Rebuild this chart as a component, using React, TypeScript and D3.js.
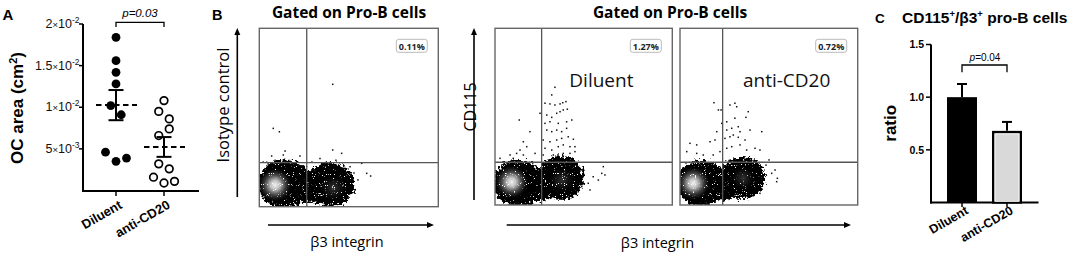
import React from 'react';
import * as d3 from 'd3';

// ---------------- Panel A data ----------------
const groupsA = ['Diluent', 'anti-CD20'];
const ocDiluent = [0.0184, 0.0156, 0.0142, 0.0128, 0.0102, 0.0091, 0.0046, 0.0035, 0.0039];
const ocAnti = [0.0108, 0.0095, 0.0086, 0.0066, 0.0074, 0.0032, 0.0026, 0.0016, 0.0009, 0.0011];
const ocTicks = [0.005, 0.01, 0.015, 0.02];
const ocTickMantissa = ['5', '1', '1.5', '2'];
const ocTickExponent = ['-3', '-2', '-2', '-2'];
const pLabelA = 'p=0.03';

// ---------------- Panel B data ----------------
const flowTitle = 'Gated on Pro-B cells';
const flowPercents = ['0.11%', '1.27%', '0.72%'];
const flowConditions = ['', 'Diluent', 'anti-CD20'];
const flowGates = [[26.5, 24.7], [26.3, 24.2], [24.0, 24.2]];
// dense populations: [cx, cy, rx, ry] in axis units (0-100)
const isoPopulations = [[14.2, 12.9, 15.0, 13.5], [39.6, 12.3, 13.5, 12.3], [27, 11, 8, 9]];
const dilPopulations = [[13.3, 12.5, 14.5, 13.0], [37.2, 15.3, 13.0, 12.5], [25.5, 11, 8, 9]];
const antiPopulations = [[12.0, 12.5, 13.8, 13.0], [34.9, 15.3, 13.0, 11.9], [23.5, 11, 8, 9]];
// bright cores of the populations: [cx, cy, rx, ry]
const isoCores = [[8.8, 12.2, 8, 8], [41.3, 10.5, 6.7, 6.7]];
const dilCores = [[9.4, 13.0, 8, 8], [37.8, 14.2, 6.5, 6.5]];
const antiCores = [[7.5, 12.3, 8, 8], [35.5, 15.3, 6, 6]];
// sparse events [x, y]
const isoEvents = [
  [41.0, 68.6], [7.8, 43.9], [11.2, 42.0], [14.4, 31.2], [41.0, 31.8], [46.0, 29.9], [22.7, 28.4],
  [6.9, 28.4], [13.4, 29.0], [50.7, 22.4], [55.1, 15.0], [57.2, 24.3], [60.0, 18.7], [62.2, 17.2],
  [53.5, 9.4], [52.9, 18.9], [2.2, 25], [4.9, 24], [8.8, 26], [12.7, 24.5], [17.1, 25.5], [21.6, 23.5],
  [29.4, 25], [33.9, 27], [38.4, 24], [42.8, 26], [47.3, 23],
];
const dilEvents = [
  [33.8, 66.6], [32.0, 62.3], [28.2, 57.6], [31.0, 57.2], [33.8, 56.6], [36.7, 57.2], [38.2, 57.9],
  [40.0, 58.5], [25.4, 51.9], [29.2, 50.9], [32.0, 49.6], [34.8, 51.9], [36.7, 52.8], [38.5, 53.8],
  [40.8, 54.2], [13.7, 48.1], [28.2, 46.2], [31.0, 47.1], [35.7, 46.2], [40.4, 47.1], [43.3, 48.1],
  [19.7, 41.5], [29.2, 42.4], [32.0, 41.5], [34.8, 42.4], [37.6, 41.5], [40.4, 43.4], [16.0, 35.8],
  [27.2, 36.8], [31.0, 35.8], [34.8, 36.8], [37.6, 37.7], [41.3, 38.6], [44.2, 37.2], [14.1, 31.1],
  [17.9, 33.0], [28.2, 32.1], [32.0, 31.1], [35.7, 33.0], [38.5, 34.0], [42.3, 33.0], [45.1, 33.0],
  [8.5, 28.3], [12.2, 29.2], [16.0, 28.3], [22.6, 29.2], [27.2, 28.3], [32.9, 28.3], [38.5, 29.2],
  [42.3, 29.2], [45.1, 30.2], [2.8, 26.4], [10.3, 26.4], [47.0, 21.7], [49.8, 16.0], [52.6, 12.3],
  [48.9, 10.4], [53.6, 8.5], [47.0, 7.5], [61.1, 21.7], [62.0, 17.0], [60.2, 17.9], [58.3, 14.1],
  [55.4, 16.0],
];
const antiEvents = [
  [19.1, 57.9], [21.6, 53.8], [23.1, 53.8], [28.1, 56.6], [30.9, 57.6], [31.9, 55.6], [38.4, 52.8],
  [30.9, 49.1], [37.1, 49.6], [26.3, 47.1], [23.5, 46.2], [20.7, 41.5], [26.3, 42.4], [29.1, 43.4],
  [32.8, 44.3], [33.8, 41.5], [39.4, 42.4], [46.0, 41.5], [5.6, 34.9], [9.4, 34.0], [16.9, 35.8],
  [19.7, 36.8], [25.3, 37.7], [28.1, 38.6], [30.0, 39.6], [32.8, 38.3], [36.6, 36.8], [3.8, 30.2],
  [9.4, 29.2], [13.1, 28.3], [18.7, 28.3], [22.5, 30.2], [26.3, 32.1], [29.1, 33.0], [33.8, 34.0],
  [37.5, 31.1], [42.2, 32.1], [45.0, 31.1], [53.5, 19.8], [54.8, 15.1], [54.4, 13.2], [51.6, 17.9],
  [45.0, 6.6], [48.4, 22.6], [50.1, 25.5],
];

// ---------------- Panel C data ----------------
const groupsC = ['Diluent', 'anti-CD20'];
const ratioMean = [1.0, 0.68];
const ratioSEM = [0.125, 0.085];
const ratioTicks = [0.5, 1.0, 1.5];
const pLabelC = '=0.04';

const SANS = "'Liberation Sans', Arial, sans-serif";
const CAL = "'Open Sans', 'Noto Sans', sans-serif";

function swarmOffsets(values: number[], y: (v: number) => number, spacing: number, thresh: number) {
  const order = values.map((v, i) => i).sort((a, b) => values[b] - values[a]);
  const groups: number[][] = [];
  let cur: number[] = [];
  order.forEach((i) => {
    if (cur.length && Math.abs(y(values[i]) - y(values[cur[0]])) >= thresh) {
      groups.push(cur);
      cur = [];
    }
    cur.push(i);
  });
  if (cur.length) groups.push(cur);
  const off = values.map(() => 0);
  groups.forEach((g) => {
    const s = [...g].sort((a, b) => a - b);
    s.forEach((idx, k) => {
      off[idx] = (k - (s.length - 1) / 2) * spacing;
    });
  });
  return off;
}

function PanelA() {
  const y = d3.scaleLinear().domain([0, 0.02]).range([190.5, 24]);
  const x = d3.scalePoint<string>().domain(groupsA).range([116, 164]);
  const axisX = 83;
  const series = [ocDiluent, ocAnti];
  return (
    <g fontFamily={SANS}>
      <text x={2.5} y={19.5} fontSize={15} fontWeight="bold">A</text>
      <text transform="translate(23,108) rotate(-90)" textAnchor="middle" fontSize={17} fontWeight="bold">
        OC area (cm<tspan dy={-6} fontSize={11}>2</tspan><tspan dy={6}>)</tspan>
      </text>
      {/* axes */}
      <line x1={axisX} x2={axisX} y1={y(0.02)} y2={191.5} stroke="#000" strokeWidth={2} />
      <line x1={axisX - 1} x2={199} y1={191} y2={191} stroke="#000" strokeWidth={2} />
      {ocTicks.map((t, i) => (
        <g key={i}>
          <line x1={axisX - 4} x2={axisX} y1={y(t)} y2={y(t)} stroke="#000" strokeWidth={1.5} />
          <text x={79.5} y={y(t) + 4} textAnchor="end" fontSize={12.5} fill="#111">
            {ocTickMantissa[i]}
            <tspan fontSize={9.5}>×</tspan>10<tspan dy={-5} fontSize={8.5}>{ocTickExponent[i]}</tspan>
          </text>
        </g>
      ))}
      {groupsA.map((g) => (
        <g key={g}>
          <line x1={x(g)} x2={x(g)} y1={191} y2={196} stroke="#000" strokeWidth={1.5} />
          <text transform={`translate(${(x(g) as number) + 7},207.5) rotate(-30)`} textAnchor="end" fontSize={13} fontWeight="bold">
            {g}
          </text>
        </g>
      ))}
      {/* points */}
      {series.map((vals, si) => {
        const cx = x(groupsA[si]) as number;
        const off = swarmOffsets(vals, y, 10.5, 10.4);
        const m = d3.mean(vals) as number;
        const sem = (d3.deviation(vals) as number) / Math.sqrt(vals.length);
        return (
          <g key={si}>
            {vals.map((v, i) =>
              si === 0 ? (
                <circle key={i} cx={cx + off[i]} cy={y(v)} r={4.4} fill="#000" />
              ) : (
                <circle key={i} cx={cx + off[i]} cy={y(v)} r={3.8} fill="#fff" stroke="#000" strokeWidth={1.7} />
              )
            )}
            <line x1={cx - 20} x2={cx + 21} y1={y(m)} y2={y(m)} stroke="#000" strokeWidth={2} strokeDasharray="5.5,3.5" />
            <line x1={cx} x2={cx} y1={y(m + sem)} y2={y(m - sem)} stroke="#000" strokeWidth={2} />
            <line x1={cx - 7.5} x2={cx + 7.5} y1={y(m + sem)} y2={y(m + sem)} stroke="#000" strokeWidth={2} />
            <line x1={cx - 7.5} x2={cx + 7.5} y1={y(m - sem)} y2={y(m - sem)} stroke="#000" strokeWidth={2} />
          </g>
        );
      })}
      {/* significance */}
      <path
        d={`M${x(groupsA[0])},27 V22.3 H${x(groupsA[1])} V27`}
        fill="none"
        stroke="#000"
        strokeWidth={1.3}
      />
      <text x={140} y={17} textAnchor="middle" fontSize={11.5} fontStyle="italic">
        {pLabelA}
      </text>
    </g>
  );
}

type FlowProps = {
  id: string;
  x0: number;
  y0: number;
  w: number;
  h: number;
  pops: number[][];
  cores: number[][];
  events: number[][];
  gate: number[];
  pct: string;
  cond: string;
};

function FlowPlot({ id, x0, y0, w, h, pops, cores, events, gate, pct, cond }: FlowProps) {
  const sx = d3.scaleLinear().domain([0, 100]).range([x0, x0 + w]);
  const sy = d3.scaleLinear().domain([0, 100]).range([y0 + h, y0]);
  const kx = w / 100;
  const ky = h / 100;
  return (
    <g>
      <clipPath id={`clip-${id}`}>
        <rect x={x0} y={y0} width={w} height={h} />
      </clipPath>
      <g clipPath={`url(#clip-${id})`}>
        <g filter="url(#rough)">
          {pops.map((p, i) => (
            <ellipse key={i} cx={sx(p[0])} cy={sy(p[1])} rx={p[2] * kx} ry={p[3] * ky} fill="#050505" />
          ))}
        </g>
        {cores.map((c, i) => (
          <ellipse
            key={i}
            cx={sx(c[0])}
            cy={sy(c[1])}
            rx={c[2] * kx * (i === 0 ? 1.25 : 1.2)}
            ry={c[3] * ky * (i === 0 ? 1.25 : 1.2)}
            fill={i === 0 ? 'url(#core1)' : 'url(#core2)'}
          />
        ))}
        <g filter="url(#speckle)">
          {pops.slice(0, 2).map((p, i) => (
            <ellipse key={i} cx={sx(p[0])} cy={sy(p[1])} rx={p[2] * kx * 0.95} ry={p[3] * ky * 0.95} fill="#fff" />
          ))}
        </g>
        {events.map((e, i) => (
          <rect key={i} x={sx(e[0]) - 0.75} y={sy(e[1]) - 0.75} width={1.5} height={1.5} fill="#111" />
        ))}
      </g>
      <line x1={sx(gate[0])} x2={sx(gate[0])} y1={y0} y2={y0 + h} stroke="#555" strokeWidth={1.3} />
      <line x1={x0} x2={x0 + w} y1={sy(gate[1])} y2={sy(gate[1])} stroke="#555" strokeWidth={1.3} />
      <rect x={x0} y={y0} width={w} height={h} fill="none" stroke="#666" strokeWidth={1.4} />
      <rect x={x0 + w - 42} y={y0 + 11} width={31} height={13} rx={2.5} fill="#fff" stroke="#bbb" strokeWidth={1} />
      <text x={x0 + w - 26.5} y={y0 + 21.2} textAnchor="middle" fontSize={9} fontWeight="bold" fontFamily={CAL} fill="#222">
        {pct}
      </text>
      {cond && (
        <text x={x0 + w * 0.6} y={y0 + 58.5} textAnchor="middle" fontSize={19} fontFamily={CAL} fill="#111">
          {cond}
        </text>
      )}
    </g>
  );
}

function Arrow({ x1, y1, x2, y2 }: { x1: number; y1: number; x2: number; y2: number }) {
  const ang = Math.atan2(y2 - y1, x2 - x1);
  const L = 7;
  const Wd = 3;
  const bx = x2 - L * Math.cos(ang);
  const by = y2 - L * Math.sin(ang);
  const px = -Math.sin(ang) * Wd;
  const py = Math.cos(ang) * Wd;
  return (
    <g>
      <line x1={x1} y1={y1} x2={bx} y2={by} stroke="#000" strokeWidth={1.6} />
      <path d={`M${x2},${y2} L${bx + px},${by + py} L${bx - px},${by - py} Z`} fill="#000" />
    </g>
  );
}

function PanelB() {
  return (
    <g fontFamily={CAL}>
      <text x={212} y={20} fontSize={14.5} fontWeight="bold" fontFamily={SANS}>B</text>
      <text x={349} y={17.5} textAnchor="middle" fontSize={15.5} fontWeight="bold">{flowTitle}</text>
      <text x={670} y={17.5} textAnchor="middle" fontSize={15.5} fontWeight="bold">{flowTitle}</text>
      <FlowPlot id="iso" x0={259.3} y0={28.3} w={179} h={178.4} pops={isoPopulations} cores={isoCores}
        events={isoEvents} gate={flowGates[0]} pct={flowPercents[0]} cond={flowConditions[0]} />
      <FlowPlot id="dil" x0={495} y0={28.3} w={177.3} h={176.7} pops={dilPopulations} cores={dilCores}
        events={dilEvents} gate={flowGates[1]} pct={flowPercents[1]} cond={flowConditions[1]} />
      <FlowPlot id="anti" x0={680} y0={28.3} w={177.7} h={176.7} pops={antiPopulations} cores={antiCores}
        events={antiEvents} gate={flowGates[2]} pct={flowPercents[2]} cond={flowConditions[2]} />
      <Arrow x1={237.3} y1={197} x2={237.3} y2={28} />
      <Arrow x1={268} y1={225} x2={434} y2={225} />
      <Arrow x1={474} y1={200} x2={474} y2={28} />
      <Arrow x1={506.7} y1={225} x2={851} y2={225} />
      <text transform="translate(229,105) rotate(-90)" textAnchor="middle" fontSize={16.5}>Isotype control</text>
      <text transform="translate(476,107) rotate(-90)" textAnchor="middle" fontSize={16}>CD115</text>
      <text x={347} y={247} textAnchor="middle" fontSize={14.5}>β3 integrin</text>
      <text x={657.5} y={247.5} textAnchor="middle" fontSize={14.5}>β3 integrin</text>
    </g>
  );
}

function PanelC() {
  const y = d3.scaleLinear().domain([0, 1.5]).range([202.5, 44.5]);
  const x = d3.scalePoint<string>().domain(groupsC).range([962, 1007]);
  const bw = 30;
  const axisX = 931;
  return (
    <g fontFamily={SANS}>
      <text x={875} y={22.7} fontSize={13.5} fontWeight="bold">C</text>
      <text x={902} y={22.7} fontSize={15.5} fontWeight="bold">
        CD115<tspan dy={-5.5} fontSize={9.5}>+</tspan><tspan dy={5.5}>/β3</tspan><tspan dy={-5.5} fontSize={9.5}>+</tspan>
        <tspan dy={5.5}> pro-B cells</tspan>
      </text>
      <text transform="translate(896,123.3) rotate(-90)" textAnchor="middle" fontSize={17} fontWeight="bold">ratio</text>
      <line x1={axisX} x2={axisX} y1={y(1.5)} y2={203.5} stroke="#000" strokeWidth={2} />
      <line x1={axisX - 1} x2={1038.5} y1={202.5} y2={202.5} stroke="#000" strokeWidth={2} />
      {ratioTicks.map((t) => (
        <g key={t}>
          <line x1={axisX - 5} x2={axisX} y1={y(t)} y2={y(t)} stroke="#000" strokeWidth={1.5} />
          <text x={924} y={y(t) + 3.8} textAnchor="end" fontSize={10.5} fontWeight="bold">{d3.format('.1f')(t)}</text>
        </g>
      ))}
      {groupsC.map((g, i) => {
        const cx = x(g) as number;
        const top = y(ratioMean[i]);
        const et = y(ratioMean[i] + ratioSEM[i]);
        return (
          <g key={g}>
            <line x1={cx} x2={cx} y1={et} y2={top} stroke="#000" strokeWidth={2} />
            <line x1={cx - 5} x2={cx + 5} y1={et} y2={et} stroke="#000" strokeWidth={2} />
            {i === 0 ? (
              <rect x={cx - bw / 2} y={top} width={bw} height={202.5 - top} fill="#000" />
            ) : (
              <g>
                <rect x={cx - bw / 2 + 1.2} y={top + 1.2} width={bw - 2.4} height={202.5 - top - 1.2} fill="#d9d9d9" stroke="#000" strokeWidth={2.4} />
                <rect x={cx - bw / 2 + 3} y={top + 3} width={bw - 6} height={202.5 - top - 4} fill="none" stroke="#fff" strokeWidth={0.8} />
              </g>
            )}
            <line x1={cx} x2={cx} y1={202.5} y2={207} stroke="#000" strokeWidth={1.5} />
            <text transform={`translate(${cx + 7},213) rotate(-30)`} textAnchor="end" fontSize={12.5} fontWeight="bold">{g}</text>
          </g>
        );
      })}
      <path d={`M${x(groupsC[0])},72.3 V65 H${x(groupsC[1])} V72.3`} fill="none" stroke="#000" strokeWidth={1.3} />
      <text x={985} y={61} textAnchor="middle" fontSize={10}>
        <tspan fontStyle="italic">p</tspan>{pLabelC}
      </text>
    </g>
  );
}

export default function App() {
  return (
    <svg width={1074} height={254} style={{ position: 'absolute', left: 0, top: 0, background: '#fff' }}>
      <defs>
        <filter id="rough" x="-20%" y="-20%" width="140%" height="140%">
          <feTurbulence type="fractalNoise" baseFrequency="0.35" numOctaves={3} seed={4} result="n" />
          <feDisplacementMap in="SourceGraphic" in2="n" scale={10} xChannelSelector="R" yChannelSelector="G" />
        </filter>
        <filter id="speckle" x="0" y="0" width="100%" height="100%">
          <feTurbulence type="fractalNoise" baseFrequency="0.9" numOctaves={1} seed={11} result="t" />
          <feColorMatrix in="t" type="matrix" values="0 0 0 0 1  0 0 0 0 1  0 0 0 0 1  16 0 0 0 -10.6" result="spots" />
          <feComposite in="spots" in2="SourceGraphic" operator="in" />
        </filter>
        <radialGradient id="core1">
          <stop offset="0" stopColor="#f2f2f2" />
          <stop offset="0.25" stopColor="#c0c0c0" />
          <stop offset="0.55" stopColor="#4a4a4a" />
          <stop offset="0.85" stopColor="#0a0a0a" stopOpacity={0.7} />
          <stop offset="1" stopColor="#000" stopOpacity={0} />
        </radialGradient>
        <radialGradient id="core2">
          <stop offset="0" stopColor="#333" />
          <stop offset="0.6" stopColor="#151515" stopOpacity={0.6} />
          <stop offset="1" stopColor="#000" stopOpacity={0} />
        </radialGradient>
      </defs>
      <rect width={1074} height={254} fill="#fff" />
      <PanelA />
      <PanelB />
      <PanelC />
    </svg>
  );
}
